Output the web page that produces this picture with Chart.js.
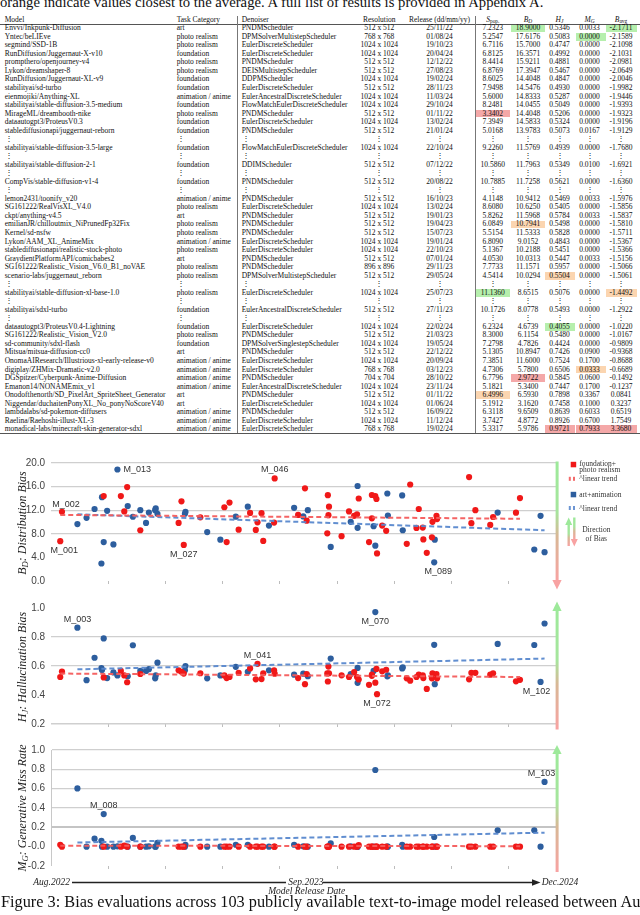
<!DOCTYPE html>
<html>
<head>
<meta charset="utf-8">
<title>Bias evaluations</title>
<script src="https://cdn.jsdelivr.net/npm/chart.js@4.4.1/dist/chart.umd.min.js"></script>
<style>
  html, body { margin: 0; padding: 0; }
  body { width: 640px; height: 915px; overflow: hidden; position: relative; background: #fff;
         font-family: "Liberation Serif", "Times New Roman", serif; color: #111; }
  .t { position: absolute; white-space: nowrap; line-height: 1; }
  .tb { font-size: 7.5px; }
  .c { transform: translateX(-50%); }
  sub { font-size: 72%; vertical-align: -0.25em; line-height: 0; }
  canvas { position: absolute; left: 0; }
  .rot { position: absolute; white-space: nowrap; line-height: 1; font-size: 12px; font-style: italic;
         transform: translate(-50%, -50%) rotate(-90deg); color: #222; }
  .lg { position: absolute; white-space: nowrap; line-height: 1; font-size: 7.5px; color: #333; }
  .ax { position: absolute; white-space: nowrap; line-height: 1; font-size: 9.5px; font-style: italic; color: #222; }
</style>
</head>
<body>

<div class="t" style="left:0;top:-5.5px;font-size:14.7px">orange indicate values closest to the average. A full list of results is provided in Appendix A.</div>
<div id="table"></div>

<canvas id="bd" width="560" height="142" style="top:451px"></canvas>
<canvas id="hj" width="560" height="140" style="top:596px"></canvas>
<canvas id="mg" width="560" height="140" style="top:738px"></canvas>

<div class="rot" style="left:22px;top:523px"><i>B<sub>D</sub></i>: Distribution Bias</div>
<div class="rot" style="left:22px;top:667px"><i>H<sub>J</sub></i>: Hallucination Bias</div>
<div class="rot" style="left:22px;top:808px"><i>M<sub>G</sub></i>: Generative Miss Rate</div>

<svg width="640" height="915" style="position:absolute;left:0;top:0" xmlns="http://www.w3.org/2000/svg">
  <defs>
    <linearGradient id="gr" x1="0" y1="0" x2="0" y2="1">
      <stop offset="0" stop-color="#9de99a"/>
      <stop offset="0.42" stop-color="#a6e59d"/>
      <stop offset="0.62" stop-color="#d8b896"/>
      <stop offset="1" stop-color="#f8a2a2"/>
    </linearGradient>
  </defs>
  <!-- direction arrows beside the panels -->
  <rect x="555.6" y="461.5" width="3" height="120" fill="url(#gr)"/>
  <polygon points="552.4,580 561.6,580 557,589.5" fill="#f8a2a2"/>
  <polygon points="557,601.5 552.4,611 561.6,611" fill="#9de99a"/>
  <rect x="555.6" y="610" width="3" height="119.5" fill="url(#gr)"/>
  <polygon points="557,745 552.4,754 561.6,754" fill="#9de99a"/>
  <rect x="555.6" y="753" width="3" height="119" fill="url(#gr)"/>
  <!-- legend marks -->
  <rect x="570.7" y="461.8" width="5.5" height="5.5" fill="#f01818"/>
  <rect x="568.8" y="476.8" width="2" height="4" fill="#f36a6a"/>
  <rect x="573" y="476.8" width="2" height="4" fill="#f36a6a"/>
  <rect x="570.7" y="491.8" width="5.5" height="5.5" fill="#2d5e9e"/>
  <rect x="568.8" y="506" width="2" height="4" fill="#6c95d3"/>
  <rect x="573" y="506" width="2" height="4" fill="#6c95d3"/>
  <polygon points="568.7,517.5 565.2,525 572.2,525" fill="#9de99a"/>
  <rect x="567.5" y="524.5" width="2.4" height="21.5" fill="url(#gr)"/>
  <rect x="573.1" y="517.5" width="2.4" height="22" fill="url(#gr)"/>
  <polygon points="570.8,539 577.8,539 574.3,546.5" fill="#f8a2a2"/>
  <!-- release date arrow -->
  <line x1="72" y1="882.5" x2="286" y2="882.5" stroke="#222" stroke-width="1.3"/>
  <line x1="323" y1="882.5" x2="534" y2="882.5" stroke="#222" stroke-width="1.3"/>
  <polygon points="532,879.3 540.5,882.5 532,885.7" fill="#222"/>
</svg>

<div class="lg" style="left:579.3px;top:459.8px">foundation+</div>
<div class="lg" style="left:579.3px;top:466px">photo realism</div>
<div class="lg" style="left:579.3px;top:475.2px">^linear trend</div>
<div class="lg" style="left:579.3px;top:491px">art+animation</div>
<div class="lg" style="left:579.3px;top:504.7px">^linear trend</div>
<div class="lg c" style="left:596.3px;top:525.5px">Direction</div>
<div class="lg c" style="left:596.3px;top:534.5px">of Bias</div>

<div class="ax" style="left:33.3px;top:877.6px">Aug.2022</div>
<div class="ax" style="left:288.3px;top:877.6px">Sep.2023</div>
<div class="ax" style="left:541.7px;top:877.6px">Dec.2024</div>
<div class="ax c" style="left:306.7px;top:887px">Model Release Date</div>

<div class="t" style="left:1px;top:893.8px;font-size:16.3px">Figure 3: Bias evaluations across 103 publicly available text-to-image model released between August 2022 and December 2024.</div>

<script>
// ---- chart data ----
// foundation + photo realism models (red)
const redDates = ['2022-08-17','2022-08-20','2022-11-01','2022-12-01','2022-12-07','2022-12-12','2023-01-04','2023-03-12','2023-03-17','2023-03-21',
  '2023-04-19','2023-05-31','2023-06-04','2023-06-09','2023-06-25','2023-07-15','2023-07-25','2023-07-28','2023-08-04','2023-08-07',
  '2023-08-26','2023-08-27','2023-10-07','2023-10-19','2023-10-22','2023-11-27','2023-11-28','2023-11-29','2023-11-30','2023-12-22',
  '2024-01-04','2024-01-13','2024-01-18','2024-01-21','2024-02-08','2024-02-13','2024-02-13','2024-02-19','2024-02-21','2024-02-22',
  '2024-03-02','2024-03-09','2024-04-14','2024-04-20','2024-05-01','2024-05-05','2024-05-12','2024-05-13','2024-05-19','2024-05-28',
  '2024-05-29','2024-06-05','2024-06-06','2024-08-01','2024-08-05','2024-08-12','2024-09-07','2024-09-12','2024-10-22','2024-10-29'];
const redBD = [6.75, 11.73, 14.40, 14.4, 11.80, 15.92, 8.6, 9.85, 13.5, 6.12,
  10.79, 12.5, 6.6, 13.3, 8.7, 11.53, 8.65, 9.95, 11.5, 6.8,
  9.9, 17.39, 11.2, 15.7, 10.22, 8.08, 14.55, 11.16, 12.6, 7.6,
  11.8, 11.05, 11.3, 13.98, 6.6, 14.58, 10.63, 14.40, 13.9, 4.67,
  9.4, 8.5, 6.3, 16.36, 9.0, 12.2, 9.05, 7.05, 4.78, 7.4,
  10.03, 11.05, 10.5, 17.62, 9.8, 12.0, 9.5, 10.85, 11.58, 14.05];
const redHJ = [0.524, 0.562, 0.521, 0.566, 0.535, 0.488, 0.545, 0.57, 0.56, 0.548,
  0.550, 0.535, 0.517, 0.524, 0.553, 0.583, 0.508, 0.615, 0.51, 0.55,
  0.57, 0.547, 0.517, 0.475, 0.545, 0.549, 0.493, 0.596, 0.55, 0.536,
  0.524, 0.558, 0.524, 0.507, 0.47, 0.532, 0.541, 0.485, 0.58, 0.406,
  0.563, 0.574, 0.515, 0.499, 0.524, 0.54, 0.535, 0.517, 0.442, 0.515,
  0.550, 0.545, 0.515, 0.508, 0.553, 0.553, 0.54, 0.55, 0.494, 0.505];
const redMG = [0.02, 0, 0, 0, 0.01, 0, 0, 0, 0, 0,
  0, 0, 0, 0, 0, 0, 0, 0, 0, 0,
  0, 0, 0, 0, 0, 0, 0, 0, 0, 0,
  0, 0, 0, 0.0167, 0, 0, 0, 0, 0, 0,
  0, 0, 0, 0, 0, 0, 0, 0, 0, 0,
  0, 0, 0, 0, 0, 0, 0, 0, 0, 0];

// art + animation models (blue)
const blueDates = ['2022-09-16','2022-10-02','2022-10-16','2022-10-28','2022-10-29','2022-11-01','2022-11-07','2022-11-18','2022-11-25','2022-12-13',
  '2022-12-22','2023-01-04','2023-01-14','2023-01-19','2023-01-30','2023-01-31','2023-02-03','2023-03-23','2023-03-24','2023-05-01',
  '2023-05-24','2023-06-20','2023-07-11','2023-08-17','2023-09-30','2023-10-16','2023-10-24','2023-12-03','2024-01-07','2024-01-19',
  '2024-01-19','2024-02-16','2024-02-19','2024-03-11','2024-03-12','2024-04-06','2024-04-07','2024-06-01','2024-06-02','2024-09-20',
  '2024-11-23','2024-12-04','2024-12-11'];
const blueBD = [9.65, 10.7, 12.2, 2.97, 14.2, 6.59, 11.9, 6.2, 18.9, 12.7,
  10.89, 12.0, 9.85, 11.60, 12.0, 12.3, 11.4, 11.4, 11.7, 8.3,
  7.0, 10.9, 12.6, 9.4, 12.4, 10.94, 12.0, 5.78, 10.03, 9.02,
  16.1, 9.3, 5.98, 14.83, 11.1, 14.5, 8.6, 3.16, 7.0, 11.6,
  5.34, 11.05, 4.88];
const blueHJ = [0.864, 0.502, 0.657, 0.585, 0.573, 0.790, 0.517, 0.556, 0.535, 0.53,
  0.743, 0.566, 0.566, 0.578, 0.515, 0.535, 0.623, 0.57, 0.6, 0.515,
  0.535, 0.594, 0.56, 0.57, 0.54, 0.547, 0.53, 0.651, 0.545, 0.484,
  0.587, 0.566, 0.972, 0.529, 0.535, 0.583, 0.59, 0.746, 0.475, 0.752,
  0.745, 0.49, 0.893];
const blueMG = [0.603, 0, 0.083, 0.06, 0, 0.337, 0, 0, 0.0033, 0,
  0.09, 0, 0, 0.0033, 0, 0, 0.04, 0, 0.02, 0,
  0, 0.02, 0.02, 0, 0.02, 0.0033, 0, 0.0333, 0.0033, 0,
  0, 0, 0.793, 0, 0, 0.02, 0, 0.1, 0, 0.17,
  0.17, 0, 0.67];

// linear trend lines: value at first and last release of each group
const bdTrendRed = [11.2, 10.55], bdTrendBlue = [11.3, 8.6];
const hjTrendRed = [0.548, 0.524], hjTrendBlue = [0.577, 0.651];
const mgTrendRed = [0.01, 0.005], mgTrendBlue = [0.043, 0.145];

// point tags: [text, group, index in group, placement]
const bdTags = [['M_001','r',0,'belowR'], ['M_002','r',1,'aboveR'], ['M_013','b',8,'right'],
  ['M_027','r',9,'below'], ['M_046','r',21,'above'], ['M_089','b',37,'belowR']];
const hjTags = [['M_003','b',0,'above'], ['M_041','r',17,'above'], ['M_070','b',32,'below'],
  ['M_072','r',39,'below'], ['M_102','b',41,'belowL']];
const mgTags = [['M_008','b',5,'above'], ['M_103','b',42,'aboveL']];

// ---- table text ----
const tableHead = ['Model', 'Task Category', 'Denoiser', 'Resolution', 'Release (dd/mm/yy)',
  '<i>S</i><sub>pop.</sub>', '<i>B<sub>D</sub></i>', '<i>H<sub>J</sub></i>', '<i>M<sub>G</sub></i>', '<i>B</i><sub>avg</sub>'];
const tableRows = [
  ['Envvi/Inkpunk-Diffusion','art','PNDMScheduler','512 x 512','25/11/22','7.2323','18.9000','0.5346','0.0033','-2.1711'],
  ['Yntec/beLIEve','photo realism','DPMSolverMultistepScheduler','768 x 768','01/08/24','5.2547','17.6176','0.5083','0.0000','-2.1589'],
  ['segmind/SSD-1B','photo realism','EulerDiscreteScheduler','1024 x 1024','19/10/23','6.7116','15.7000','0.4747','0.0000','-2.1098'],
  ['RunDiffusion/Juggernaut-X-v10','foundation','EulerDiscreteScheduler','1024 x 1024','20/04/24','6.8125','16.3571','0.4992','0.0000','-2.1031'],
  ['prompthero/openjourney-v4','photo realism','PNDMScheduler','512 x 512','12/12/22','8.4414','15.9211','0.4881','0.0000','-2.0981'],
  ['Lykon/dreamshaper-8','photo realism','DEISMultistepScheduler','512 x 512','27/08/23','6.8769','17.3947','0.5467','0.0000','-2.0649'],
  ['RunDiffusion/Juggernaut-XL-v9','foundation','DDPMScheduler','1024 x 1024','19/02/24','8.6025','14.4048','0.4847','0.0000','-2.0046'],
  ['stabilityai/sd-turbo','foundation','EulerDiscreteScheduler','512 x 512','28/11/23','7.9498','14.5476','0.4930','0.0000','-1.9982'],
  ['eienmojiki/Anything-XL','animation / anime','EulerAncestralDiscreteScheduler','1024 x 1024','11/03/24','5.6000','14.8333','0.5287','0.0000','-1.9446'],
  ['stabilityai/stable-diffusion-3.5-medium','foundation','FlowMatchEulerDiscreteScheduler','1024 x 1024','29/10/24','8.2481','14.0455','0.5049','0.0000','-1.9393'],
  ['MirageML/dreambooth-nike','photo realism','PNDMScheduler','512 x 512','01/11/22','3.3402','14.4048','0.5206','0.0000','-1.9323'],
  ['dataautogpt3/ProteusV0.3','foundation','EulerDiscreteScheduler','1024 x 1024','13/02/24','7.3949','14.5833','0.5324','0.0000','-1.9196'],
  ['stablediffusionapi/juggernaut-reborn','foundation','PNDMScheduler','512 x 512','21/01/24','5.0168','13.9783','0.5073','0.0167','-1.9129'],
  null,
  ['stabilityai/stable-diffusion-3.5-large','foundation','FlowMatchEulerDiscreteScheduler','1024 x 1024','22/10/24','9.2260','11.5769','0.4939','0.0000','-1.7680'],
  null,
  ['stabilityai/stable-diffusion-2-1','foundation','DDIMScheduler','512 x 512','07/12/22','10.5860','11.7963','0.5349','0.0100','-1.6921'],
  null,
  ['CompVis/stable-diffusion-v1-4','foundation','PNDMScheduler','512 x 512','20/08/22','10.7885','11.7258','0.5621','0.0000','-1.6360'],
  null,
  ['lemon2431/toonify_v20','animation / anime','PNDMScheduler','512 x 512','16/10/23','4.1148','10.9412','0.5469','0.0033','-1.5976'],
  ['SG161222/RealVisXL_V4.0','photo realism','EulerDiscreteScheduler','1024 x 1024','13/02/24','8.6080','10.6250','0.5405','0.0000','-1.5856'],
  ['ckpt/anything-v4.5','art','PNDMScheduler','512 x 512','19/01/23','5.8262','11.5968','0.5784','0.0033','-1.5837'],
  ['emilianJR/chilloutmix_NiPrunedFp32Fix','photo realism','PNDMScheduler','512 x 512','19/04/23','6.0849','10.7941','0.5498','0.0000','-1.5810'],
  ['Kernel/sd-nsfw','photo realism','PNDMScheduler','512 x 512','15/07/23','5.5154','11.5333','0.5828','0.0000','-1.5711'],
  ['Lykon/AAM_XL_AnimeMix','animation / anime','EulerDiscreteScheduler','1024 x 1024','19/01/24','6.8090','9.0152','0.4843','0.0000','-1.5367'],
  ['stablediffusionapi/realistic-stock-photo','photo realism','EulerDiscreteScheduler','1024 x 1024','22/10/23','5.1367','10.2188','0.5451','0.0000','-1.5366'],
  ['GraydientPlatformAPI/comicbabes2','art','PNDMScheduler','512 x 512','07/01/24','4.0530','10.0313','0.5447','0.0033','-1.5156'],
  ['SG161222/Realistic_Vision_V6.0_B1_noVAE','photo realism','PNDMScheduler','896 x 896','29/11/23','7.7733','11.1571','0.5957','0.0000','-1.5066'],
  ['scenario-labs/juggernaut_reborn','photo realism','DPMSolverMultistepScheduler','512 x 512','29/05/24','4.5414','10.0294','0.5504','0.0000','-1.5061'],
  null,
  ['stabilityai/stable-diffusion-xl-base-1.0','photo realism','EulerDiscreteScheduler','1024 x 1024','25/07/23','11.1360','8.6515','0.5076','0.0000','-1.4492'],
  null,
  ['stabilityai/sdxl-turbo','foundation','EulerAncestralDiscreteScheduler','512 x 512','27/11/23','10.1726','8.0778','0.5493','0.0000','-1.2922'],
  null,
  ['dataautogpt3/ProteusV0.4-Lightning','foundation','EulerDiscreteScheduler','1024 x 1024','22/02/24','6.2324','4.6739','0.4055','0.0000','-1.0220'],
  ['SG161222/Realistic_Vision_V2.0','photo realism','PNDMScheduler','512 x 512','21/03/23','8.3000','6.1154','0.5480','0.0000','-1.0167'],
  ['sd-community/sdxl-flash','foundation','DPMSolverSinglestepScheduler','1024 x 1024','19/05/24','7.2798','4.7826','0.4424','0.0000','-0.9809'],
  ['Mitsua/mitsua-diffusion-cc0','art','PNDMScheduler','512 x 512','22/12/22','5.1305','10.8947','0.7426','0.0900','-0.9368'],
  ['OnomaAIResearch/Illustrious-xl-early-release-v0','animation / anime','EulerDiscreteScheduler','1024 x 1024','20/09/24','7.3851','11.6000','0.7524','0.1700','-0.8688'],
  ['digiplay/ZHMix-Dramatic-v2.0','animation / anime','EulerDiscreteScheduler','768 x 768','03/12/23','4.7306','5.7800','0.6506','0.0333','-0.6689'],
  ['DGSpitzer/Cyberpunk-Anime-Diffusion','animation / anime','PNDMScheduler','704 x 704','28/10/22','6.7796','2.9722','0.5845','0.0600','-0.1492'],
  ['Emanon14/NONAMEmix_v1','animation / anime','EulerAncestralDiscreteScheduler','1024 x 1024','23/11/24','5.1821','5.3400','0.7447','0.1700','-0.1237'],
  ['Onodofthenorth/SD_PixelArt_SpriteSheet_Generator','art','PNDMScheduler','512 x 512','01/11/22','6.4996','6.5930','0.7898','0.3367','0.0841'],
  ['Niggendar/duchaitenPonyXL_No_ponyNoScoreV40','art','EulerDiscreteScheduler','1024 x 1024','01/06/24','5.1912','3.1620','0.7458','0.1000','0.3237'],
  ['lambdalabs/sd-pokemon-diffusers','animation / anime','PNDMScheduler','512 x 512','16/09/22','6.3118','9.6509','0.8639','0.6033','0.6519'],
  ['Raelina/Raehoshi-illust-XL-3','animation / anime','EulerDiscreteScheduler','1024 x 1024','11/12/24','3.7427','4.8772','0.8926','0.6700','1.7549'],
  ['monadical-labs/minecraft-skin-generator-sdxl','animation / anime','EulerDiscreteScheduler','768 x 768','19/02/24','5.3317','5.9786','0.9721','0.7933','3.3680']
];
// [row, column, colour] of the shaded cells
const tableMarks = [[0,6,'g'],[0,9,'g'],[1,8,'g'],[10,5,'r'],[23,6,'o'],[29,7,'o'],[31,5,'g'],[31,9,'o'],
  [35,7,'g'],[40,8,'o'],[41,6,'r'],[43,5,'o'],[47,7,'r'],[47,8,'r'],[47,9,'r']];

// ---- build the table ----
const colX = [4.7, 176.7, 241.7, 379.3, 439.5, 492.8, 528, 559.5, 589.5, 621];
const markX = {5: [476, 509.5], 6: [510.5, 545], 7: [545, 575], 8: [575.5, 605.5], 9: [606, 637]};
const markColor = {g: '#b6efad', o: '#fbd5b0', r: '#f4a8a8'};
const rowY = i => 28.3 + i * 8.53;
const tbl = document.getElementById('table');

function addDiv(cls, style, html) {
  const d = document.createElement('div');
  d.className = cls;
  d.style.cssText = style;
  if (html !== undefined) d.innerHTML = html;
  tbl.appendChild(d);
  return d;
}

tableMarks.forEach(([r, c, k]) => {
  const y = rowY(r), x = markX[c];
  addDiv('', `position:absolute;left:${x[0]}px;top:${y - 3.9}px;width:${x[1] - x[0]}px;height:7.8px;background:${markColor[k]}`);
});
addDiv('', 'position:absolute;left:0;top:24px;width:640px;height:1px;background:#555');
addDiv('', 'position:absolute;left:0;top:433px;width:640px;height:1px;background:#555');
addDiv('', 'position:absolute;left:237px;top:16px;width:1px;height:417px;background:#777');
addDiv('', 'position:absolute;left:475px;top:16px;width:1px;height:417px;background:#777');

function addCell(c, y, html) {
  addDiv('t tb' + (c >= 3 ? ' c' : ''), `left:${colX[c]}px;top:${y - 4}px`, html);
}
tableHead.forEach((h, c) => addCell(c, 20, h));
tableRows.forEach((row, i) => {
  const y = rowY(i);
  for (let c = 0; c < 10; c++) addCell(c, y, row ? row[c] : '\u22EE');
});

// ---- charts ----
const RED = '#f01818', BLUE = '#2d5e9e';
const RED_TREND = 'rgba(244,92,92,0.95)', BLUE_TREND = 'rgba(88,136,206,0.95)';
const DAY0 = Date.UTC(2022, 7, 1);
function toDay(s) {
  const p = s.split('-').map(Number);
  return (Date.UTC(p[0], p[1] - 1, p[2]) - DAY0) / 86400000;
}
const X_MAX = toDay('2024-12-31');

const TAG_OFFSETS = {
  above: [0, -8.5, 'center'], aboveR: [4, -7.5, 'center'], aboveL: [-3, -8, 'center'],
  below: [0, 9.5, 'center'], belowR: [4, 9, 'center'], belowL: [-4, 9.5, 'center'],
  right: [6, 0, 'left']
};

function tagPlugin(list) {
  return {
    id: 'tags',
    afterDatasetsDraw(chart) {
      const ctx = chart.ctx;
      ctx.save();
      ctx.font = '9px "Liberation Sans", Arial, sans-serif';
      ctx.fillStyle = '#333';
      ctx.textBaseline = 'middle';
      list.forEach(([text, grp, idx, place]) => {
        const pt = chart.getDatasetMeta(grp === 'r' ? 2 : 3).data[idx];
        const o = TAG_OFFSETS[place];
        ctx.textAlign = o[2];
        ctx.fillText(text, pt.x + o[0], pt.y + o[1]);
      });
      ctx.restore();
    }
  };
}

function drawPanel(id, p) {
  const pts = (dates, vals) => dates.map((d, i) => ({x: toDay(d), y: vals[i]}));
  const ends = (dates, t) => [{x: toDay(dates[0]), y: t[0]}, {x: toDay(dates[dates.length - 1]), y: t[1]}];
  const line = v => p.lines.find(l => Math.abs(l[0] - v) < 1e-6);

  new Chart(document.getElementById(id), {
    type: 'scatter',
    data: {
      datasets: [
        {data: ends(redDates, p.redTrend), showLine: true, borderColor: RED_TREND, borderWidth: 2,
         borderDash: [5, 3], pointRadius: 0, order: 0},
        {data: ends(blueDates, p.blueTrend), showLine: true, borderColor: BLUE_TREND, borderWidth: 2,
         borderDash: [5, 3], pointRadius: 0, order: 1},
        {data: pts(redDates, p.red), pointBackgroundColor: RED, pointBorderWidth: 0, pointRadius: 3.1, order: 2},
        {data: pts(blueDates, p.blue), pointBackgroundColor: BLUE, pointBorderWidth: 0, pointRadius: 3.1, order: 3}
      ]
    },
    options: {
      responsive: false,
      animation: false,
      devicePixelRatio: 1,
      layout: {padding: {top: p.padTop, right: 3.9, bottom: p.padBottom, left: 0}},
      plugins: {legend: {display: false}, tooltip: {enabled: false}},
      scales: {
        x: {
          type: 'linear', min: 0, max: X_MAX,
          ticks: {display: false, stepSize: 100},
          afterBuildTicks: s => { s.ticks = s.ticks.filter(t => t.value > 0 && t.value % 100 === 0); },
          afterFit: s => { s.height = 4; },
          grid: {drawOnChartArea: false, drawTicks: true, tickLength: 3, color: '#bdbdbd'},
          border: {display: false}
        },
        y: {
          min: p.min, max: p.max,
          ticks: {stepSize: p.step, color: '#444', padding: 6,
                  font: {family: '"Liberation Sans", Arial, sans-serif', size: 10},
                  callback: v => v.toFixed(1)},
          afterFit: s => { s.width = 51.1; },
          grid: {
            drawTicks: false,
            color: c => { const l = line(c.tick.value); return l ? l[1] : 'rgba(0,0,0,0)'; },
            lineWidth: c => { const l = line(c.tick.value); return l ? l[2] : 0; }
          },
          border: {display: p.border, color: '#c8c8c8', width: 1}
        }
      }
    },
    plugins: [tagPlugin(p.tags)]
  });
}

drawPanel('bd', {
  red: redBD, blue: blueBD, redTrend: bdTrendRed, blueTrend: bdTrendBlue, tags: bdTags,
  min: 0, max: 20, step: 4, padTop: 10.3, padBottom: 2.3, border: false,
  lines: [[20, '#cfcfcf', 1.2], [16, '#cfcfcf', 1.2], [12, '#cfcfcf', 1.2], [8, '#cfcfcf', 1.2]]
});
drawPanel('hj', {
  red: redHJ, blue: blueHJ, redTrend: hjTrendRed, blueTrend: hjTrendBlue, tags: hjTags,
  min: 0.2, max: 1.0, step: 0.2, padTop: 7.3, padBottom: 2.7, border: false,
  lines: [[0.8, '#cfcfcf', 1.2], [0.6, '#cfcfcf', 1.2], [0.2, '#cfcfcf', 1.5]]
});
drawPanel('mg', {
  red: redMG, blue: blueMG, redTrend: mgTrendRed, blueTrend: mgTrendBlue, tags: mgTags,
  min: -0.2, max: 1.0, step: 0.2, padTop: 7.8, padBottom: 2.3, border: true,
  lines: [[1.0, '#cfcfcf', 1.2], [0.8, '#cfcfcf', 1.2], [0.6, '#cfcfcf', 1.2], [0.4, '#cfcfcf', 1.2], [0.2, '#c4c4c4', 2]]
});
</script>
</body>
</html>
